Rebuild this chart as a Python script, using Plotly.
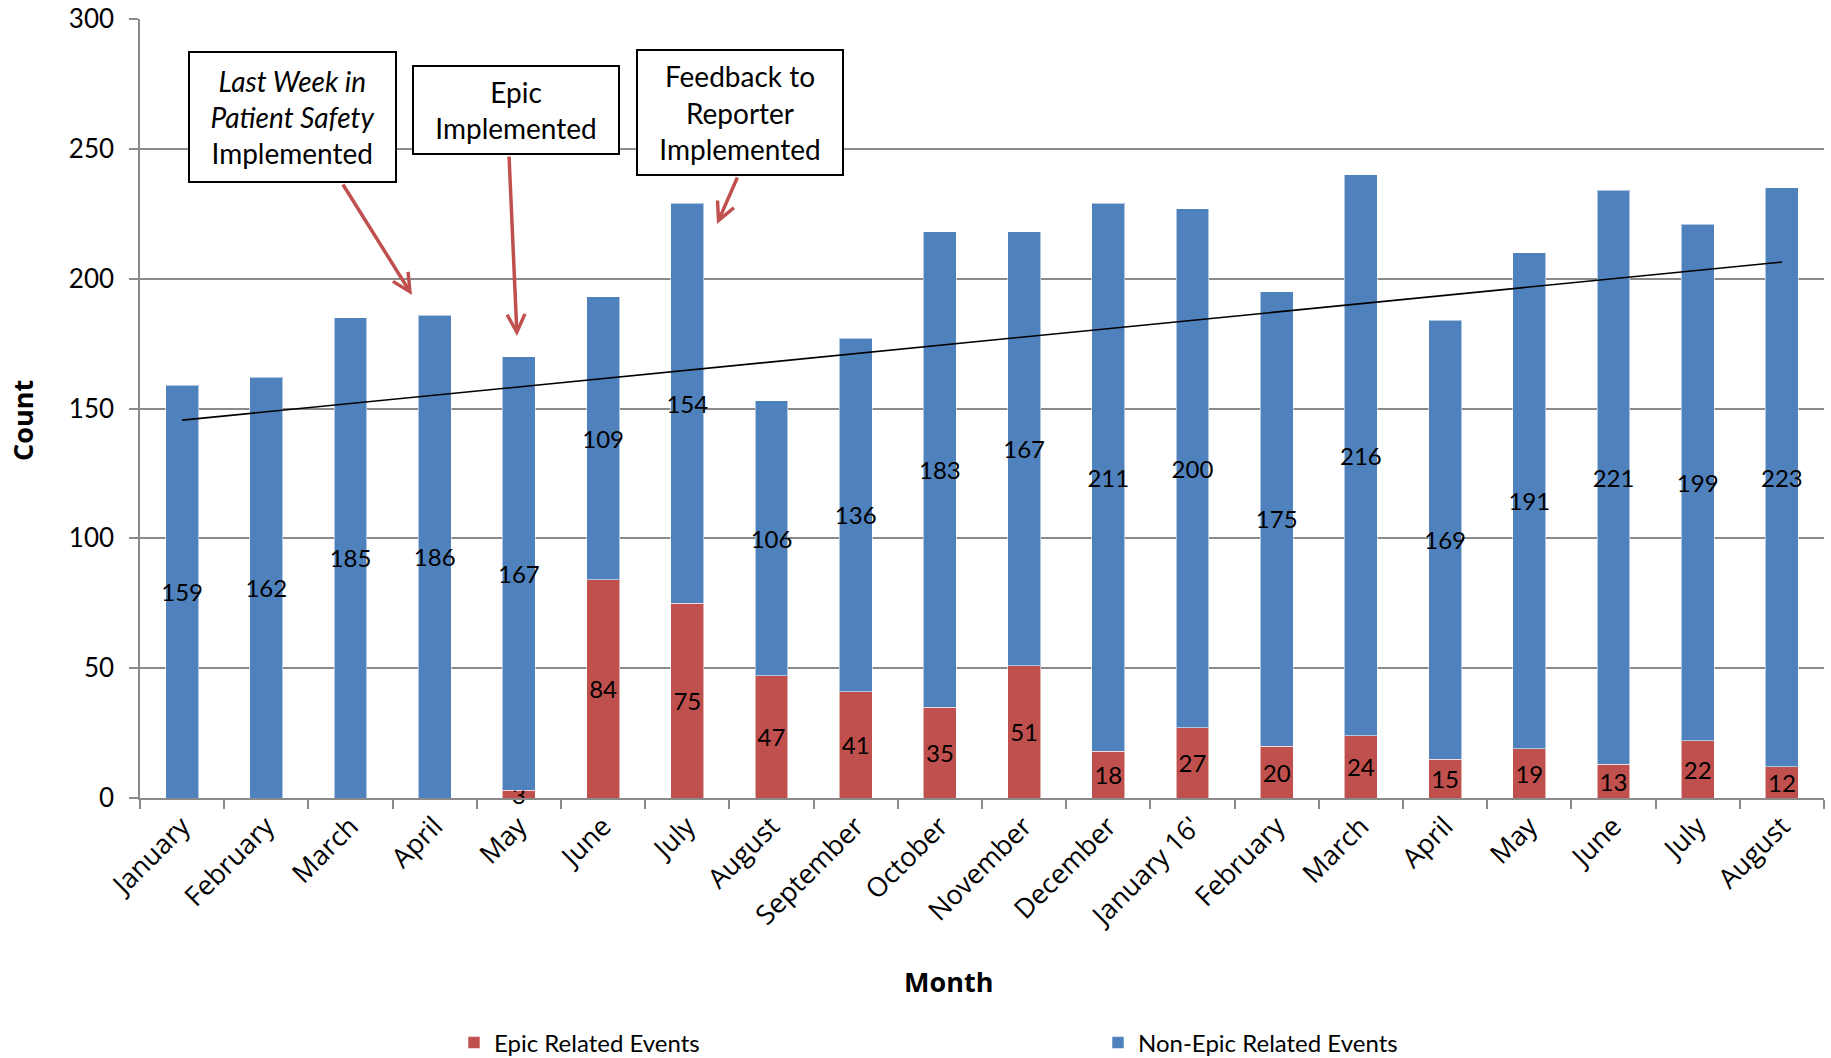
import numpy as np
import plotly.graph_objects as go

# ---- data ----
month_keys = ["2015-01", "2015-02", "2015-03", "2015-04", "2015-05", "2015-06",
              "2015-07", "2015-08", "2015-09", "2015-10", "2015-11", "2015-12",
              "2016-01", "2016-02", "2016-03", "2016-04", "2016-05", "2016-06",
              "2016-07", "2016-08"]
month_labels = ["January", "February", "March", "April", "May", "June", "July",
                "August", "September", "October", "November", "December",
                "January 16'", "February", "March", "April", "May", "June",
                "July", "August"]
epic_events = [0, 0, 0, 0, 3, 84, 75, 47, 41, 35, 51, 18, 27, 20, 24, 15, 19, 13, 22, 12]
non_epic_events = [159, 162, 185, 186, 167, 109, 154, 106, 136, 183, 167, 211,
                   200, 175, 216, 169, 191, 221, 199, 223]

# linear trend of the non-epic series
idx = np.arange(len(non_epic_events))
slope, intercept = np.polyfit(idx, non_epic_events, 1)
trend = slope * idx + intercept

RED = "#C0504D"
BLUE = "#4F81BD"
GRID = "#8a8a8a"

fig = go.Figure()
fig.add_bar(
    name="Epic Related Events", x=month_keys, y=epic_events,
    marker=dict(color=RED, line=dict(color="rgba(255,255,255,0.55)", width=1)),
    text=[str(v) if v else "" for v in epic_events], texttemplate="%{text}",
    textposition="inside", insidetextanchor="middle", textangle=0,
    constraintext="none", cliponaxis=False,
    textfont=dict(family="Lato", size=24, color="black"),
    legend="legend", hoverinfo="skip",
)
fig.add_bar(
    name="Non-Epic Related Events", x=month_keys, y=non_epic_events,
    marker=dict(color=BLUE, line=dict(color="rgba(255,255,255,0.55)", width=1)),
    text=[str(v) for v in non_epic_events], texttemplate="%{text}",
    textposition="inside", insidetextanchor="middle", textangle=0,
    constraintext="none", cliponaxis=False,
    textfont=dict(family="Lato", size=24, color="black"),
    legend="legend2", hoverinfo="skip",
)
fig.add_scatter(
    x=month_keys, y=trend, mode="lines",
    line=dict(color="black", width=1.6), showlegend=False, hoverinfo="skip",
)

L, R, T, B = 140, 7, 19, 260
W, H = 1831, 1058
pw, ph = W - L - R, H - T - B

def px_x(px):
    return (px - L) / pw

def px_y(py):
    return (H - B - py) / ph

box_font = dict(family="Lato", size=28, color="black")
boxes = [
    dict(text="<i>Last Week in</i><br><i>Patient Safety</i><br>Implemented",
         x=px_x(292.5), y=px_y(117), width=205, height=128),
    dict(text="Epic<br>Implemented",
         x=px_x(516), y=px_y(110), width=204, height=86),
    dict(text="Feedback to<br>Reporter<br>Implemented",
         x=px_x(740), y=px_y(112.5), width=204, height=123),
]
ann_list = []
# arrows (head position, tail offset in pixels)
arrows = [((412, 295), (-70, -112)), ((517, 336), (-8, -181)), ((717, 224), (21, -48))]
for (hx, hy), (ax, ay) in arrows:
    ann_list.append(dict(
        text="", xref="paper", yref="paper", x=px_x(hx), y=px_y(hy),
        ax=ax, ay=ay, showarrow=True, arrowhead=5, arrowsize=1,
        arrowwidth=3.5, arrowcolor=RED,
    ))
for a in boxes:
    ann_list.append(dict(
        xref="paper", yref="paper", xanchor="center", yanchor="middle",
        showarrow=False, font=box_font, bordercolor="black", borderwidth=2,
        borderpad=0, bgcolor="white", align="center", **a,
    ))
# axis titles
ann_list.append(dict(
    text="Month", xref="paper", yref="paper", x=px_x(948), y=px_y(981),
    xanchor="center", yanchor="middle", showarrow=False,
    font=dict(family="Open Sans", size=27, color="black", weight="bold"),
))
ann_list.append(dict(
    text="Count", xref="paper", yref="paper", x=px_x(22), y=px_y(421),
    xanchor="center", yanchor="middle", showarrow=False, textangle=-90,
    font=dict(family="Open Sans", size=27, color="black", weight="bold"),
))

fig.update_layout(
    width=W, height=H,
    margin=dict(l=L, r=R, t=T, b=B, autoexpand=False),
    paper_bgcolor="white", plot_bgcolor="white",
    barmode="stack", bargap=0.61,
    annotations=ann_list,
    legend=dict(orientation="h", x=px_x(454), y=px_y(1043), xanchor="left",
                yanchor="middle", font=dict(family="Lato", size=24, color="black"),
                bgcolor="rgba(0,0,0,0)"),
    legend2=dict(orientation="h", x=px_x(1098), y=px_y(1043), xanchor="left",
                 yanchor="middle", font=dict(family="Lato", size=24, color="black"),
                 bgcolor="rgba(0,0,0,0)"),
    xaxis=dict(
        type="category", tickmode="array", tickvals=month_keys, ticktext=month_labels,
        tickangle=-45, tickson="boundaries", ticks="outside", ticklen=9,
        tickcolor=GRID, tickwidth=1.5, showline=True, linecolor=GRID, linewidth=1.5,
        showgrid=False, automargin=False,
        tickfont=dict(family="Open Sans", size=27, color="black"),
    ),
    yaxis=dict(
        range=[0, 300], dtick=50, ticks="outside", ticklen=9, tickcolor=GRID,
        tickwidth=1.5, showline=True, linecolor=GRID, linewidth=1.5,
        showgrid=True, gridcolor=GRID, gridwidth=1.5, zeroline=False,
        automargin=False, ticklabelstandoff=10,
        tickfont=dict(family="Lato", size=26, color="black"),
    ),
)

fig.write_html("out.html")
